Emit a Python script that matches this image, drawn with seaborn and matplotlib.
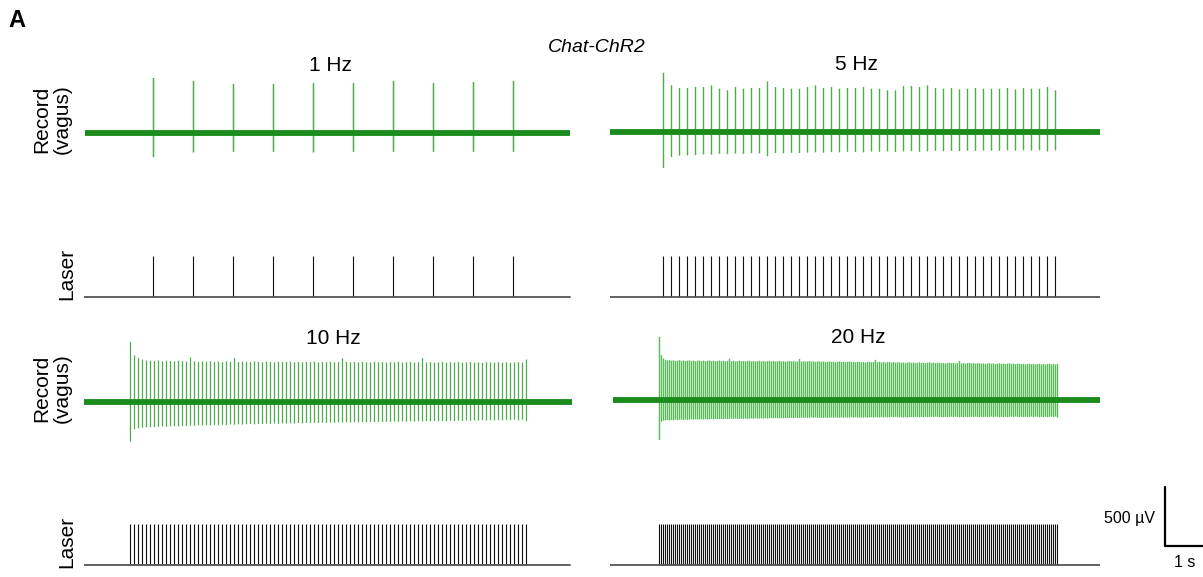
import numpy as np
import pandas as pd
import matplotlib
matplotlib.use("Agg")
import matplotlib.pyplot as plt
import seaborn as sns

sns.set_theme(style="white")
plt.rcParams['font.family'] = ['Liberation Sans', 'DejaVu Sans']
plt.rcParams['text.color'] = 'black'

W, H = 1203, 577
px_per_s = 40.0          # 1 s scale bar length in px
uv_per_px = 500 / 59.0   # 500 uV scale bar length in px

# ---- data ----
titles = ['1 Hz', '5 Hz', '10 Hz', '20 Hz']
rates = [1, 5, 10, 20]                 # stimulation frequency (Hz)
n_pulses = [10, 50, 100, 200]
pulse_t0 = [1.725, 1.325, 1.15, 1.225]  # first pulse, s from panel start
rec_span = [(0.025, 12.15), (0.0, 12.25), (0.0, 12.2), (0.075, 12.25)]
laser_span = [(0.0, 12.15), (0.0, 12.25), (0.0, 12.15), (0.0, 12.25)]

# evoked vagus spike amplitudes (uV), positive / negative peaks
up_1hz = [466, 441, 415, 415, 424, 424, 441, 424, 432, 441]
dn_1hz = [205, 165, 160, 160, 165, 160, 160, 160, 160, 160]

up_5hz = [502, 395, 373, 373, 381, 381, 395, 367, 353, 381,
          367, 373, 373, 429, 381, 373, 367, 367, 381, 395,
          373, 381, 367, 373, 373, 381, 367, 367, 353, 353,
          390, 390, 381, 395, 373, 367, 373, 361, 367, 373,
          367, 367, 367, 373, 361, 373, 367, 367, 381, 353]
dn_5hz = [305, 212, 200, 198, 195, 190, 192, 185, 188, 183,
          185, 180, 182, 205, 178, 180, 176, 178, 175, 172,
          175, 170, 172, 168, 170, 172, 166, 168, 165, 170,
          165, 162, 168, 164, 160, 163, 160, 162, 158, 160,
          156, 158, 160, 155, 158, 155, 157, 154, 165, 155]

up_10hz = [508, 395, 372, 360, 352, 350, 348, 352, 345, 350,
           347, 344, 350, 346, 343, 378, 345, 340, 344, 342,
           346, 340, 343, 338, 345, 341, 372, 339, 343, 340,
           338, 344, 341, 337, 343, 339, 336, 342, 338, 340,
           343, 337, 340, 336, 341, 338, 343, 335, 339, 337,
           341, 336, 338, 370, 340, 336, 339, 335, 341, 337,
           335, 340, 336, 338, 334, 339, 336, 341, 335, 337,
           339, 334, 337, 372, 335, 338, 334, 336, 340, 333,
           337, 335, 338, 333, 336, 339, 334, 336, 332, 338,
           335, 333, 337, 334, 336, 332, 335, 338, 333, 360]
dn_10hz = [336, 232, 222, 218, 215, 212, 214, 210, 208, 210,
           206, 204, 207, 203, 205, 200, 202, 198, 200, 196,
           198, 194, 196, 192, 195, 190, 193, 189, 191, 188,
           186, 189, 185, 187, 184, 186, 182, 185, 181, 183,
           180, 182, 178, 181, 177, 179, 176, 178, 175, 177,
           174, 176, 173, 175, 172, 174, 171, 173, 170, 172,
           169, 171, 168, 170, 167, 169, 166, 168, 165, 167,
           164, 166, 163, 165, 162, 164, 161, 163, 160, 162,
           159, 161, 158, 160, 157, 159, 156, 158, 155, 157,
           154, 156, 153, 155, 152, 154, 151, 156, 150, 162]

up_20hz = [534, 381, 352, 340, 336, 338, 333, 336, 331, 334, 337, 332, 335, 330, 333, 336, 331, 334, 329, 333,
           335, 330, 333, 328, 332, 335, 330, 333, 328, 331, 334, 329, 332, 327, 331, 350, 329, 332, 327, 330,
           333, 328, 331, 326, 330, 333, 328, 331, 326, 329, 332, 327, 330, 325, 329, 332, 327, 330, 325, 328,
           331, 326, 329, 324, 328, 331, 326, 329, 324, 327, 348, 326, 329, 324, 327, 330, 325, 328, 323, 327,
           328, 323, 326, 321, 324, 327, 322, 325, 320, 324, 327, 322, 325, 320, 323, 326, 321, 324, 319, 323,
           324, 319, 322, 317, 321, 324, 319, 322, 340, 320, 323, 318, 321, 316, 320, 323, 318, 321, 316, 319,
           320, 315, 318, 313, 317, 320, 315, 318, 313, 316, 319, 314, 317, 312, 316, 319, 314, 317, 312, 315,
           316, 311, 314, 309, 313, 316, 311, 314, 309, 312, 332, 310, 313, 308, 312, 315, 310, 313, 308, 311,
           312, 307, 310, 305, 309, 312, 307, 310, 305, 308, 311, 306, 309, 304, 308, 311, 306, 309, 304, 307,
           308, 303, 306, 301, 305, 308, 303, 306, 301, 304, 307, 302, 305, 300, 304, 307, 302, 305, 300, 306]
dn_20hz = [339, 185, 175, 172, 170, 173, 168, 171, 167, 170, 168, 166, 169, 165, 168, 166, 164, 167, 163, 166,
           165, 163, 166, 162, 165, 163, 161, 164, 160, 163, 162, 160, 163, 159, 162, 160, 158, 161, 157, 160,
           160, 158, 161, 157, 160, 158, 156, 159, 155, 158, 157, 155, 158, 154, 157, 155, 153, 156, 152, 155,
           155, 153, 156, 152, 155, 153, 151, 154, 150, 153, 152, 150, 153, 149, 152, 150, 148, 151, 147, 150,
           152, 150, 153, 149, 152, 150, 148, 151, 147, 150, 150, 148, 151, 147, 150, 148, 146, 149, 145, 148,
           150, 148, 151, 147, 150, 148, 146, 149, 145, 148, 148, 146, 149, 145, 148, 146, 144, 147, 143, 146,
           148, 146, 149, 145, 148, 146, 144, 147, 143, 146, 146, 144, 147, 143, 146, 144, 142, 145, 141, 144,
           146, 144, 147, 143, 146, 144, 142, 145, 141, 144, 146, 144, 147, 143, 146, 144, 142, 145, 141, 144,
           145, 143, 146, 142, 145, 143, 141, 144, 140, 143, 145, 143, 146, 142, 145, 143, 141, 144, 140, 143,
           145, 143, 146, 142, 145, 143, 141, 144, 140, 143, 145, 143, 146, 142, 145, 143, 141, 144, 140, 150]

spike_up = [up_1hz, up_5hz, up_10hz, up_20hz]
spike_dn = [dn_1hz, dn_5hz, dn_10hz, dn_20hz]

# ---- layout (px): left, width, record baseline y, laser baseline y ----
panels = [(84, 487, 133, 297), (610, 490, 132, 297),
          (84, 488, 402, 565), (610, 490, 400, 565)]
title_pos = [(330, 71), (856, 70), (333, 344), (858, 343)]
spike_lw = [1.1, 1.0, 0.9, 1.0]
spike_alpha = [0.85, 0.85, 0.85, 0.75]
green = '#1b8c1b'
spike_green = ['#2f9e2f', '#2f9e2f', '#2f9e2f', '#22a322']

fig = plt.figure(figsize=(W / 100, H / 100), dpi=100)


def px_axes(l, t, w, h):
    ax = fig.add_axes([l / W, 1 - (t + h) / H, w / W, h / H])
    ax.set_axis_off()
    return ax


for i in range(4):
    l, w, rb, lb = panels[i]
    times = pulse_t0[i] + np.arange(n_pulses[i]) / rates[i]

    # recording trace: evoked spikes + noisy baseline band
    ax = px_axes(l, rb - 75, w, 130)
    spikes = pd.DataFrame({'t': times, 'up': spike_up[i], 'dn': spike_dn[i]})
    sp = ax.vlines(spikes['t'] + 0.0125, -spikes['dn'], spikes['up'],
                   color=spike_green[i], lw=spike_lw[i], alpha=spike_alpha[i])
    sp.set_snap(False)
    sns.lineplot(x=list(rec_span[i]), y=[0, 0], color=green, lw=4.2,
                 solid_capstyle='butt', ax=ax)
    ax.set_xlim(0, w / px_per_s)
    ax.set_ylim(-55 * uv_per_px, 75 * uv_per_px)
    ax.set_axis_off()

    # laser pulses
    axl = px_axes(l, lb - 50, w, 56)
    axl.vlines(times, 0, 1, color='#111111', lw=0.8)
    sns.lineplot(x=list(laser_span[i]), y=[0, 0], color='#555555', lw=1.3, ax=axl)
    axl.set_xlim(0, w / px_per_s)
    axl.set_ylim(-6 / 41.5, 50 / 41.5)
    axl.set_axis_off()

    tx, ty = title_pos[i]
    fig.text(tx / W, 1 - ty / H, titles[i], ha='center', va='baseline', fontsize=15)

# row labels
for yc in (119, 388):
    fig.text(52 / W, 1 - yc / H, 'Record\n(vagus)', rotation=90, ha='center',
             va='center', fontsize=15, linespacing=1.1)
for yc in (274, 542):
    fig.text(67 / W, 1 - yc / H, 'Laser', rotation=90, ha='center',
             va='center', fontsize=15)

fig.text(8 / W, 1 - 27 / H, 'A', fontsize=17, fontweight='bold', va='baseline')
fig.text(597 / W, 1 - 52 / H, 'Chat-ChR2', fontsize=14, style='italic',
         ha='center', va='baseline')

# scale bar: 500 uV / 1 s
axs = px_axes(1150, 470, 53, 90)
sns.lineplot(x=[0, 0, 1], y=[500, 0, 0], sort=False, estimator=None,
             color='black', lw=1.6, ax=axs)
axs.set_xlim(-15 / px_per_s, 38 / px_per_s)
axs.set_ylim(-14 * uv_per_px, 76 * uv_per_px)
axs.set_axis_off()
for line in axs.lines:
    line.set_clip_on(False)
fig.text(1155 / W, 1 - 523 / H, '500 µV', fontsize=11.5, ha='right', va='baseline')
fig.text(1185 / W, 1 - 567 / H, '1 s', fontsize=11.5, ha='center', va='baseline')

fig.savefig('out.png', dpi=100)
